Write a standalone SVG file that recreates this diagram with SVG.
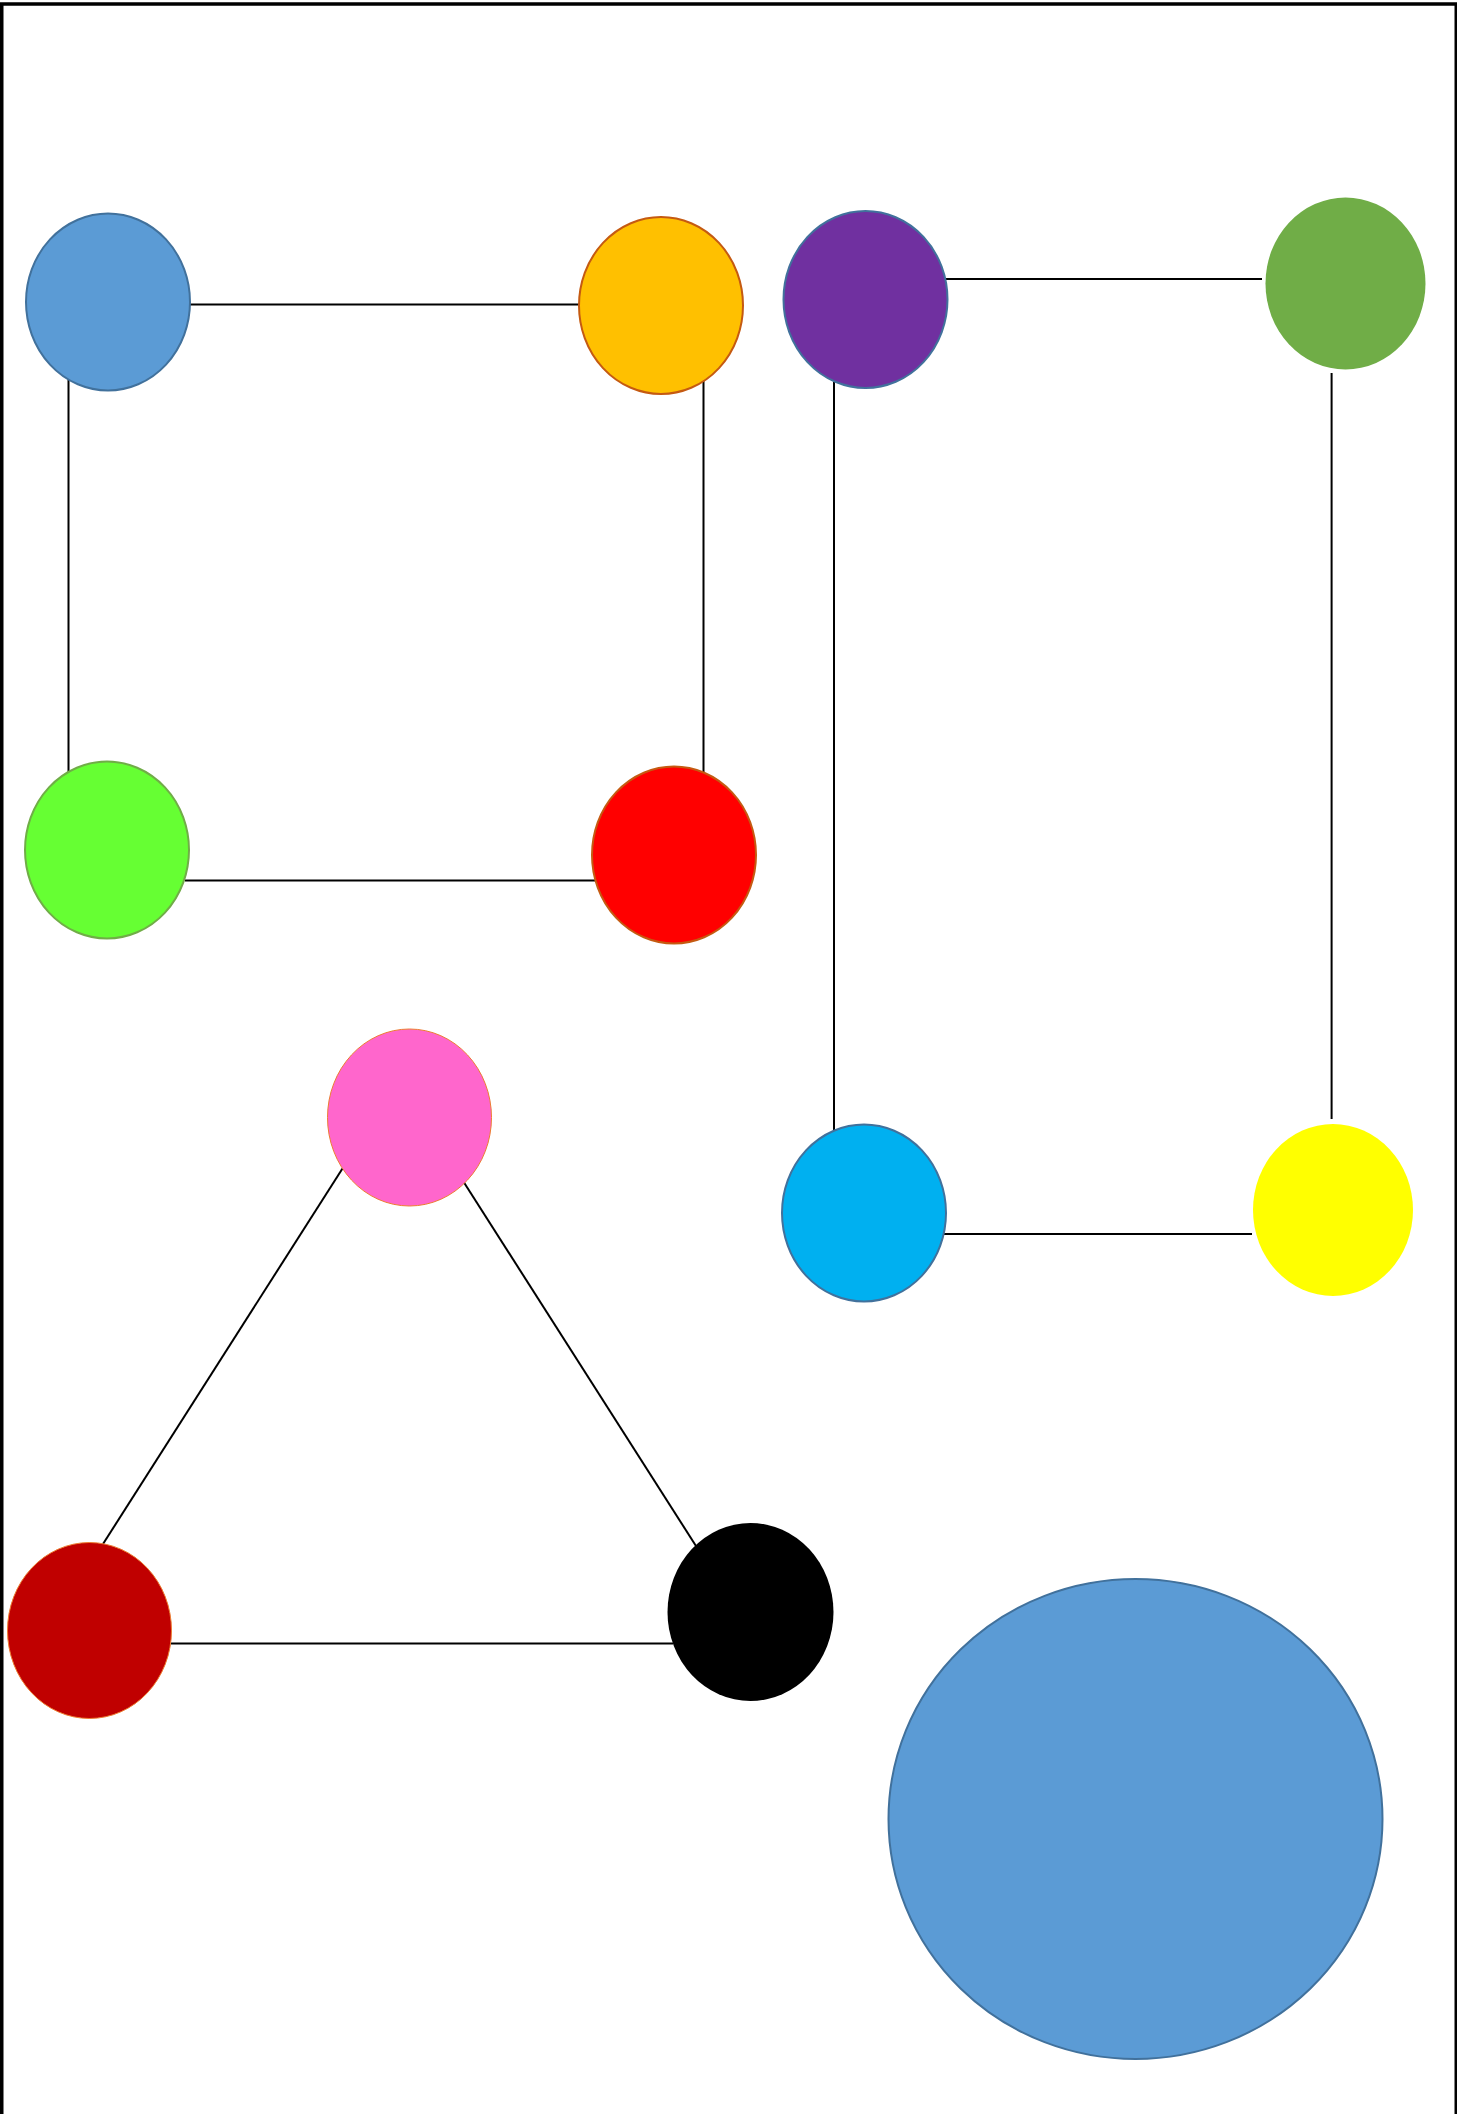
<svg xmlns="http://www.w3.org/2000/svg" width="1457" height="2114" viewBox="0 0 1457 2114">
<style>
.edge{stroke:#000;stroke-width:2;fill:none}
.n{stroke-width:2}
.blue{fill:#5B9BD5;stroke:#41719C}
.frame{fill:none;stroke:#000;stroke-width:3.5}
</style>
<rect width="1457" height="2114" fill="#fff"/>
<rect class="frame" x="1.75" y="4" width="1454.5" height="2200"/>
<g id="connectors">
<line class="edge" x1="188" y1="304.5" x2="582" y2="304.5"/>
<line class="edge" x1="68.5" y1="375" x2="68.5" y2="775"/>
<line class="edge" x1="703.5" y1="380" x2="703.5" y2="778"/>
<line class="edge" x1="185" y1="880.5" x2="598" y2="880.5"/>
<line class="edge" x1="946" y1="279" x2="1262" y2="279"/>
<line class="edge" x1="834" y1="382" x2="834" y2="1131"/>
<line class="edge" x1="1331.6" y1="373" x2="1331.6" y2="1119"/>
<line class="edge" x1="944" y1="1234" x2="1252" y2="1234"/>
<line class="edge" x1="342.5" y1="1168.5" x2="103" y2="1544"/>
<line class="edge" x1="464" y1="1182.5" x2="696" y2="1546"/>
<line class="edge" x1="171" y1="1643.5" x2="673" y2="1643.5"/>
</g>
<g id="n1"><ellipse class="n blue" cx="108" cy="302" rx="82" ry="88.5"/></g>
<g id="n2"><ellipse class="n" cx="661" cy="305.5" rx="82" ry="88.5" fill="#FFC000" stroke="#C55A11"/></g>
<g id="n3"><ellipse class="n" cx="107" cy="850" rx="82" ry="88.5" fill="#66FF33" stroke="#70AD47"/></g>
<g id="n4"><ellipse class="n" cx="674" cy="855" rx="82" ry="88.5" fill="#FF0000" stroke="#C55A11"/></g>
<g id="n5"><ellipse class="n" cx="865.5" cy="299.5" rx="82" ry="88.5" fill="#7030A0" stroke="#41719C"/></g>
<g id="n6"><ellipse cx="1345.5" cy="283.5" rx="80" ry="86" fill="#70AD47"/></g>
<g id="n7"><ellipse class="n" cx="864" cy="1213" rx="82" ry="88.5" fill="#00B0F0" stroke="#41719C"/></g>
<g id="n8"><ellipse cx="1333" cy="1210" rx="80" ry="86" fill="#FFFF00"/></g>
<g id="n9"><ellipse cx="409.5" cy="1117.5" rx="82" ry="88.5" fill="#FF66CC" stroke="#ED7D31" stroke-width="1"/></g>
<g id="n10"><ellipse cx="89.5" cy="1630.5" rx="82" ry="88" fill="#C00000" stroke="#ED7D31" stroke-width="1"/></g>
<g id="n11"><ellipse cx="750.5" cy="1612" rx="83" ry="89" fill="#000000"/></g>
<g id="n12"><ellipse class="n blue" cx="1135.5" cy="1819" rx="247" ry="240"/></g>
</svg>
